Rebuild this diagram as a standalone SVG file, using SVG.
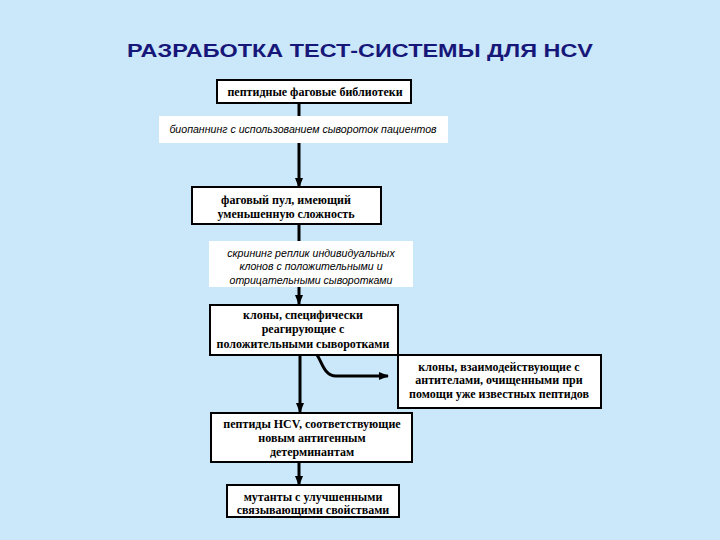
<svg xmlns="http://www.w3.org/2000/svg" width="720" height="540" viewBox="0 0 720 540">
<defs>
<marker id="ah" markerUnits="userSpaceOnUse" markerWidth="10" markerHeight="10" viewBox="0 0 10 10" refX="9" refY="5" orient="auto">
<path d="M0,1 L10,5 L0,9 Z" fill="#000"/>
</marker>
<style>
.box{fill:#fff;stroke:#000;stroke-width:2}
.lbl{fill:#fff;stroke:none}
.bt{font-family:"Liberation Serif","Times New Roman",serif;font-weight:bold;font-size:12px;fill:#000;text-anchor:middle}
.it{font-family:"Liberation Sans",Arial,sans-serif;font-style:italic;font-size:10.6px;fill:#000;text-anchor:middle}
.ln{fill:none;stroke:#000;stroke-width:3}
</style>
</defs>
<rect width="720" height="540" fill="#CAE8FA"/>
<text x="360" y="57" font-family="'Liberation Sans',Arial,sans-serif" font-weight="bold" font-size="19" fill="#17177A" text-anchor="middle" textLength="466" lengthAdjust="spacingAndGlyphs">РАЗРАБОТКА ТЕСТ-СИСТЕМЫ ДЛЯ HCV</text>
<g id="connectors">
<line class="ln" x1="299" y1="103" x2="299" y2="187" marker-end="url(#ah)"/>
<line class="ln" x1="299" y1="224" x2="299" y2="304" marker-end="url(#ah)"/>
<line class="ln" x1="300" y1="351" x2="300" y2="412" marker-end="url(#ah)"/>
<line class="ln" x1="299" y1="462" x2="299" y2="485" marker-end="url(#ah)"/>
<path class="ln" d="M300,351 L310,351 C322,351 320,376 336,376 L388,376" marker-end="url(#ah)"/>
</g>
<g id="label1">
<rect class="lbl" x="159" y="116" width="289" height="27"/>
<text class="it" x="303" y="133">биопаннинг с использованием сывороток пациентов</text>
</g>
<g id="label2">
<rect class="lbl" x="209" y="241" width="204" height="46"/>
<text class="it" x="311" y="257">скрининг реплик индивидуальных</text>
<text class="it" x="311" y="270">клонов с положительными и</text>
<text class="it" x="311" y="284">отрицательными сыворотками</text>
</g>
<g id="box1">
<rect class="box" x="217" y="80" width="194" height="23"/>
<text class="bt" x="315" y="96">пептидные фаговые библиотеки</text>
</g>
<g id="box2">
<rect class="box" x="192" y="187" width="189" height="37"/>
<text class="bt" x="286" y="204">фаговый пул, имеющий</text>
<text class="bt" x="286" y="218">уменьшенную сложность</text>
</g>
<g id="box3">
<rect class="box" x="210" y="305" width="188" height="50"/>
<text class="bt" x="303" y="319">клоны, специфически</text>
<text class="bt" x="303" y="333">реагирующие с</text>
<text class="bt" x="303" y="348">положительными сыворотками</text>
</g>
<g id="box4">
<rect class="box" x="398" y="355" width="203" height="53"/>
<text class="bt" x="499" y="371">клоны, взаимодействующие с</text>
<text class="bt" x="499" y="384">антителами, очищенными при</text>
<text class="bt" x="499" y="398">помощи уже известных пептидов</text>
</g>
<g id="box5">
<rect class="box" x="211" y="413" width="201" height="49"/>
<text class="bt" x="312" y="428">пептиды HCV, соответствующие</text>
<text class="bt" x="312" y="442">новым антигенным</text>
<text class="bt" x="312" y="456">детерминантам</text>
</g>
<g id="box6">
<rect class="box" x="227" y="485" width="172" height="32"/>
<text class="bt" x="313" y="501">мутанты с улучшенными</text>
<text class="bt" x="313" y="514">связывающими свойствами</text>
</g>
</svg>
